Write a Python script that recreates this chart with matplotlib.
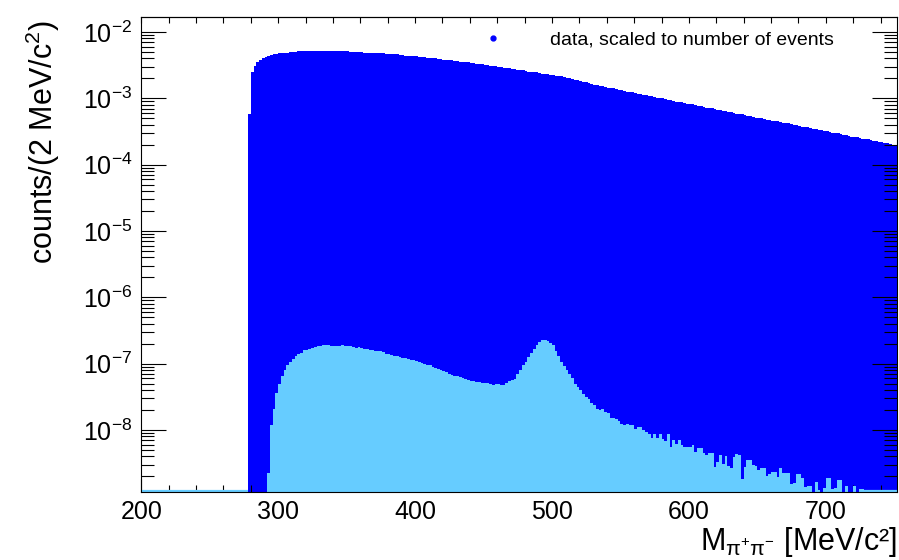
import numpy as np
import matplotlib
matplotlib.use('Agg')
import matplotlib.pyplot as plt
from matplotlib.lines import Line2D
from matplotlib.ticker import MultipleLocator, LogLocator, NullFormatter

plt.rcParams['font.family'] = ['Liberation Sans', 'DejaVu Sans']
plt.rcParams['mathtext.fontset'] = 'custom'
plt.rcParams['mathtext.rm'] = 'Liberation Sans'
plt.rcParams['mathtext.it'] = 'Liberation Sans:italic'
plt.rcParams['mathtext.bf'] = 'Liberation Sans:bold'

# ---------------------------------------------------------------------------- #
# histograms, 2 MeV bins, values given as -log10(counts)
bin_width = 2
dark_start = 278   # data
dark_neglog = [
    3.23, 2.61, 2.52, 2.46, 2.42, 2.40, 2.38, 2.36, 2.35, 2.34,
    2.33, 2.32, 2.32, 2.31, 2.31, 2.30, 2.30, 2.30, 2.29, 2.29,
    2.29, 2.29, 2.29, 2.28, 2.28, 2.28, 2.28, 2.28, 2.28, 2.28,
    2.28, 2.28, 2.29, 2.29, 2.29, 2.29, 2.29, 2.30, 2.30, 2.30,
    2.30, 2.30, 2.31, 2.31, 2.31, 2.31, 2.32, 2.32, 2.32, 2.32,
    2.33, 2.33, 2.34, 2.34, 2.34, 2.35, 2.35, 2.36, 2.36, 2.36,
    2.37, 2.37, 2.38, 2.38, 2.38, 2.39, 2.39, 2.40, 2.40, 2.41,
    2.41, 2.42, 2.42, 2.43, 2.43, 2.44, 2.44, 2.45, 2.45, 2.46,
    2.46, 2.47, 2.47, 2.48, 2.49, 2.49, 2.50, 2.50, 2.51, 2.52,
    2.52, 2.53, 2.53, 2.54, 2.55, 2.55, 2.56, 2.56, 2.57, 2.58,
    2.58, 2.59, 2.60, 2.60, 2.61, 2.61, 2.62, 2.63, 2.63, 2.64,
    2.65, 2.65, 2.66, 2.67, 2.67, 2.68, 2.69, 2.70, 2.71, 2.72,
    2.73, 2.74, 2.75, 2.76, 2.77, 2.78, 2.80, 2.80, 2.81, 2.82,
    2.83, 2.84, 2.85, 2.85, 2.86, 2.87, 2.88, 2.89, 2.90, 2.90,
    2.91, 2.92, 2.93, 2.94, 2.95, 2.95, 2.96, 2.97, 2.98, 2.99,
    2.99, 3.00, 3.01, 3.02, 3.03, 3.04, 3.05, 3.05, 3.06, 3.07,
    3.08, 3.09, 3.09, 3.10, 3.11, 3.12, 3.13, 3.14, 3.14, 3.15,
    3.16, 3.17, 3.18, 3.19, 3.19, 3.20, 3.21, 3.22, 3.23, 3.24,
    3.24, 3.25, 3.26, 3.27, 3.28, 3.29, 3.29, 3.30, 3.31, 3.32,
    3.33, 3.34, 3.34, 3.35, 3.36, 3.37, 3.38, 3.38, 3.39, 3.40,
    3.41, 3.42, 3.43, 3.43, 3.44, 3.45, 3.46, 3.47, 3.48, 3.48,
    3.49, 3.50, 3.51, 3.52, 3.53, 3.53, 3.54, 3.55, 3.56, 3.57,
    3.58, 3.58, 3.59, 3.60, 3.61, 3.62, 3.62, 3.63, 3.64, 3.65,
    3.66, 3.66, 3.67, 3.68, 3.69, 3.70, 3.71]

light_start = 292  # second sample (None = empty bin)
light_neglog = [
    8.645, 7.92, 7.69, 7.44, 7.30, 7.18, 7.10, 7.025, 6.975, 6.925,
    6.885, 6.85, 6.835, 6.80, 6.79, 6.775, 6.765, 6.75, 6.74, 6.73,
    6.72, 6.72, 6.725, 6.73, 6.73, 6.735, 6.73, 6.725, 6.735, 6.74,
    6.74, 6.75, 6.76, 6.755, 6.765, 6.775, 6.785, 6.79, 6.80, 6.805,
    6.815, 6.815, 6.83, 6.85, 6.86, 6.865, 6.88, 6.89, 6.90, 6.915,
    6.92, 6.93, 6.94, 6.95, 6.96, 6.98, 6.99, 7.00, 7.015, 7.025,
    7.05, 7.06, 7.075, 7.10, 7.11, 7.13, 7.15, 7.165, 7.18, 7.19,
    7.20, 7.215, 7.23, 7.25, 7.26, 7.265, 7.275, 7.275, 7.285, 7.285,
    7.29, 7.30, 7.317, 7.31, 7.30, 7.317, 7.317, 7.285, 7.26, 7.24,
    7.226, 7.15, 7.09, 7.025, 6.975, 6.90, 6.84, 6.784, 6.72, 6.67,
    6.638, 6.638, 6.658, 6.69, 6.72, 6.81, 6.89, 6.975, 7.04, 7.10,
    7.16, 7.21, 7.30, 7.36, 7.40, 7.46, 7.50, 7.53, 7.59, 7.63,
    7.69, 7.70, 7.69, 7.73, 7.745, 7.815, 7.82, 7.83, 7.865, 7.915,
    7.93, 7.915, 7.925, 7.93, 7.98, 7.955, 7.955, 8.005, 8.03, 8.06,
    8.12, 8.065, 8.12, 8.065, 8.13, 8.16, 8.065, 8.26, 8.15, 8.21,
    8.15, 8.23, 8.25, 8.25, 8.25, 8.22, 8.33, 8.27, 8.27, 8.35,
    8.38, 8.35, 8.35, 8.56, 8.48, 8.38, 8.51, 8.40, 8.55, 8.58,
    8.41, 8.36, 8.38, 8.74, 8.56, 8.45, 8.46, 8.53, 8.55, 8.61,
    8.58, 8.58, 8.70, 8.66, 8.64, 8.64, 8.71, 8.58, 8.65, 8.65,
    8.65, 8.82, 8.80, 8.67, 8.67, 8.73, 8.86, 8.85, 8.85, None,
    8.79, 8.90, None, 8.87, 8.73, 8.73, 8.89, 8.87, 8.76, 8.75,
    None, 8.84, None, None, 8.84, None, 8.89, 8.89]

x_range = (200, 752)
y_range = (1.16e-9, 1.68e-2)
legend_label = 'data, scaled to number of events'

# ---------------------------------------------------------------------------- #

def to_counts(neglog):
    v = np.array([np.nan if n is None else n for n in neglog], dtype=float)
    c = 10.0**(-v)
    return np.where(np.isnan(c), 1e-15, c)  # empty bins sit below the axis

dark = to_counts(dark_neglog)
light = to_counts(light_neglog)
dark_edges = dark_start + bin_width*np.arange(len(dark) + 1)
light_edges = light_start + bin_width*np.arange(len(light) + 1)

dark_col = '#0000ff'
light_col = '#66ccff'

fig = plt.figure(figsize=(8.99, 5.60), dpi=100)
ax = fig.add_axes([141.3/899, 68/560, 755.7/899, 475/560])

ax.stairs(dark, dark_edges, fill=True, color=dark_col, lw=0, baseline=1e-15, zorder=1)
ax.stairs(light, light_edges, fill=True, color=light_col, lw=0, baseline=1e-15, zorder=2)
# zero-level outline of the second histogram outside its filled range
ax.hlines([0.003, 0.003], [x_range[0], light_edges[-1]], [dark_start, x_range[1]],
          transform=ax.get_xaxis_transform(), color=light_col, lw=1.6, zorder=2.6)

ax.set_xlim(*x_range)
ax.set_yscale('log')
ax.set_ylim(*y_range)

ax.xaxis.set_major_locator(MultipleLocator(100))
ax.xaxis.set_minor_locator(MultipleLocator(20))
ax.yaxis.set_major_locator(LogLocator(base=10, numticks=20))
ax.yaxis.set_minor_locator(LogLocator(base=10, subs=np.arange(2, 10), numticks=20))
ax.yaxis.set_minor_formatter(NullFormatter())

ax.tick_params(axis='y', which='major', direction='in', length=18, width=0.8,
               labelsize=18, pad=6.5, left=True, right=True)
ax.tick_params(axis='y', which='minor', direction='in', length=9.4, width=0.8,
               left=True, right=True)
ax.tick_params(axis='x', which='major', direction='in', length=9.4, width=0.8,
               labelsize=18, pad=6, bottom=True, top=False)
ax.tick_params(axis='x', which='minor', direction='in', length=4.8, width=0.8,
               bottom=True, top=False)

top = ax.secondary_xaxis('top')
top.xaxis.set_major_locator(MultipleLocator(100))
top.xaxis.set_minor_locator(MultipleLocator(20))
top.tick_params(which='both', direction='in', length=4.5, width=0.8, labeltop=False)

for s in ax.spines.values():
    s.set_linewidth(0.8)
    s.set_zorder(4)

handle = Line2D([], [], marker='o', ls='none', color=dark_col, ms=3.5)
ax.legend([handle], [legend_label], loc='center left',
          bbox_to_anchor=(473.6/899, 1 - 40/560), bbox_transform=fig.transFigure,
          frameon=False, fontsize=14, handlelength=2.0, handletextpad=1.93,
          borderpad=0, borderaxespad=0)

fig.text(43/899, 1 - 20/560, r'counts/(2 MeV/c$^{2}$)', rotation=90,
         ha='center', va='top', fontsize=22)
fig.text(897/899, 10/560, r'M$_{\mathrm{\pi^{+}\pi^{-}}}$ [MeV/c²]',
         ha='right', va='baseline', fontsize=22)

fig.savefig('out.png', dpi=100)
